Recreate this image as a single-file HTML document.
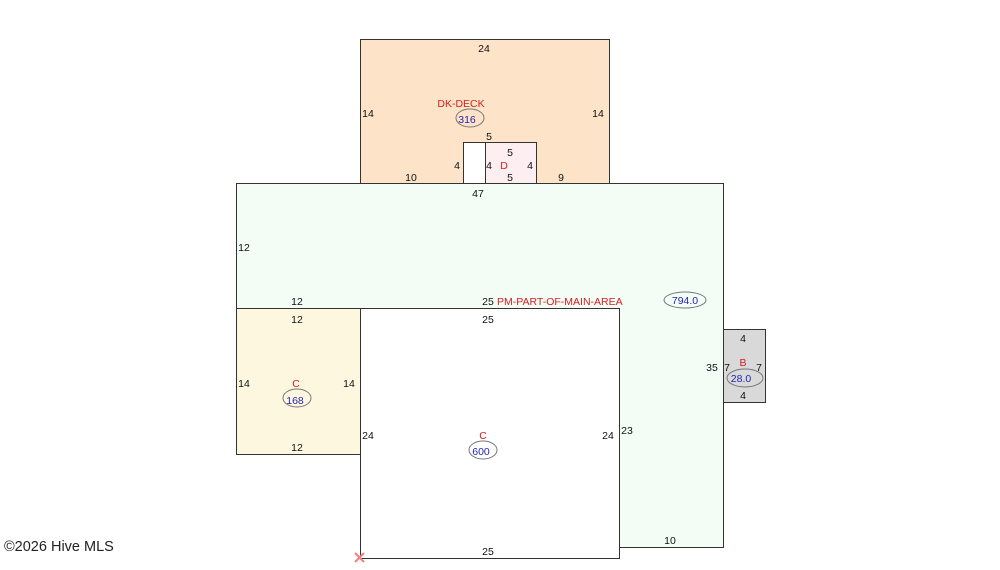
<!DOCTYPE html>
<html><head><meta charset="utf-8"><style>
html,body{margin:0;padding:0;background:#fff;width:1000px;height:570px;overflow:hidden}
svg{display:block;font-family:"Liberation Sans",sans-serif;font-size:10.5px}
</style></head><body>
<svg width="1000" height="570" viewBox="0 0 1000 570">
<g stroke="#333" stroke-width="1">
<rect x="360.5" y="39.5" width="249" height="144" fill="#fde3c7"/>
<polygon points="236.5,183.5 723.5,183.5 723.5,547.5 619.5,547.5 619.5,308.5 236.5,308.5" fill="#f3fdf6"/>
<rect x="236.5" y="308.5" width="124" height="146" fill="#fef7e0"/>
<rect x="360.5" y="308.5" width="259" height="250" fill="#fff"/>
<rect x="723.5" y="329.5" width="42" height="73" fill="#d9d9d9"/>
<rect x="463.5" y="142.5" width="22" height="41" fill="#fff"/>
<rect x="485.5" y="142.5" width="51" height="41" fill="#fdeef2"/>
</g>
<g fill="none" stroke="#777">
<ellipse cx="470" cy="118" rx="14" ry="9"/>
<ellipse cx="685" cy="300" rx="21" ry="8"/>
<ellipse cx="745" cy="378" rx="18" ry="9"/>
<ellipse cx="297" cy="398" rx="14" ry="9"/>
<ellipse cx="483" cy="450" rx="14" ry="9"/>
</g>
<g fill="#111" text-anchor="middle">
<text x="484" y="52">24</text>
<text x="368" y="117">14</text>
<text x="598" y="117">14</text>
<text x="489" y="140">5</text>
<text x="457" y="169">4</text>
<text x="489" y="169">4</text>
<text x="530" y="169">4</text>
<text x="510" y="156">5</text>
<text x="510" y="181">5</text>
<text x="411" y="181">10</text>
<text x="561" y="181">9</text>
<text x="478" y="197">47</text>
<text x="244" y="251">12</text>
<text x="297" y="305">12</text>
<text x="488" y="305">25</text>
<text x="297" y="323">12</text>
<text x="488" y="323">25</text>
<text x="244" y="387">14</text>
<text x="349" y="387">14</text>
<text x="297" y="451">12</text>
<text x="368" y="439">24</text>
<text x="608" y="439">24</text>
<text x="627" y="434">23</text>
<text x="712" y="371">35</text>
<text x="743" y="342">4</text>
<text x="743" y="399">4</text>
<text x="727" y="371">7</text>
<text x="759" y="371">7</text>
<text x="670" y="544">10</text>
<text x="488" y="555">25</text>
</g>
<g fill="#d42020" text-anchor="middle">
<text x="461" y="107">DK-DECK</text>
<text x="504" y="169">D</text>
<text x="497" y="305" text-anchor="start">PM-PART-OF-MAIN-AREA</text>
<text x="743" y="366">B</text>
<text x="296" y="387">C</text>
<text x="483" y="439">C</text>
</g>
<g fill="#2424b0" text-anchor="middle">
<text x="467" y="123">316</text>
<text x="685" y="304">794.0</text>
<text x="741" y="382">28.0</text>
<text x="295" y="404">168</text>
<text x="481" y="455">600</text>
</g>
<text x="4" y="551" font-size="14.5" fill="#222">©2026 Hive MLS</text>
<g stroke="#f08080" stroke-width="2"><line x1="355" y1="553" x2="364" y2="562"/><line x1="364" y1="553" x2="355" y2="562"/></g>
</svg>
</body></html>
